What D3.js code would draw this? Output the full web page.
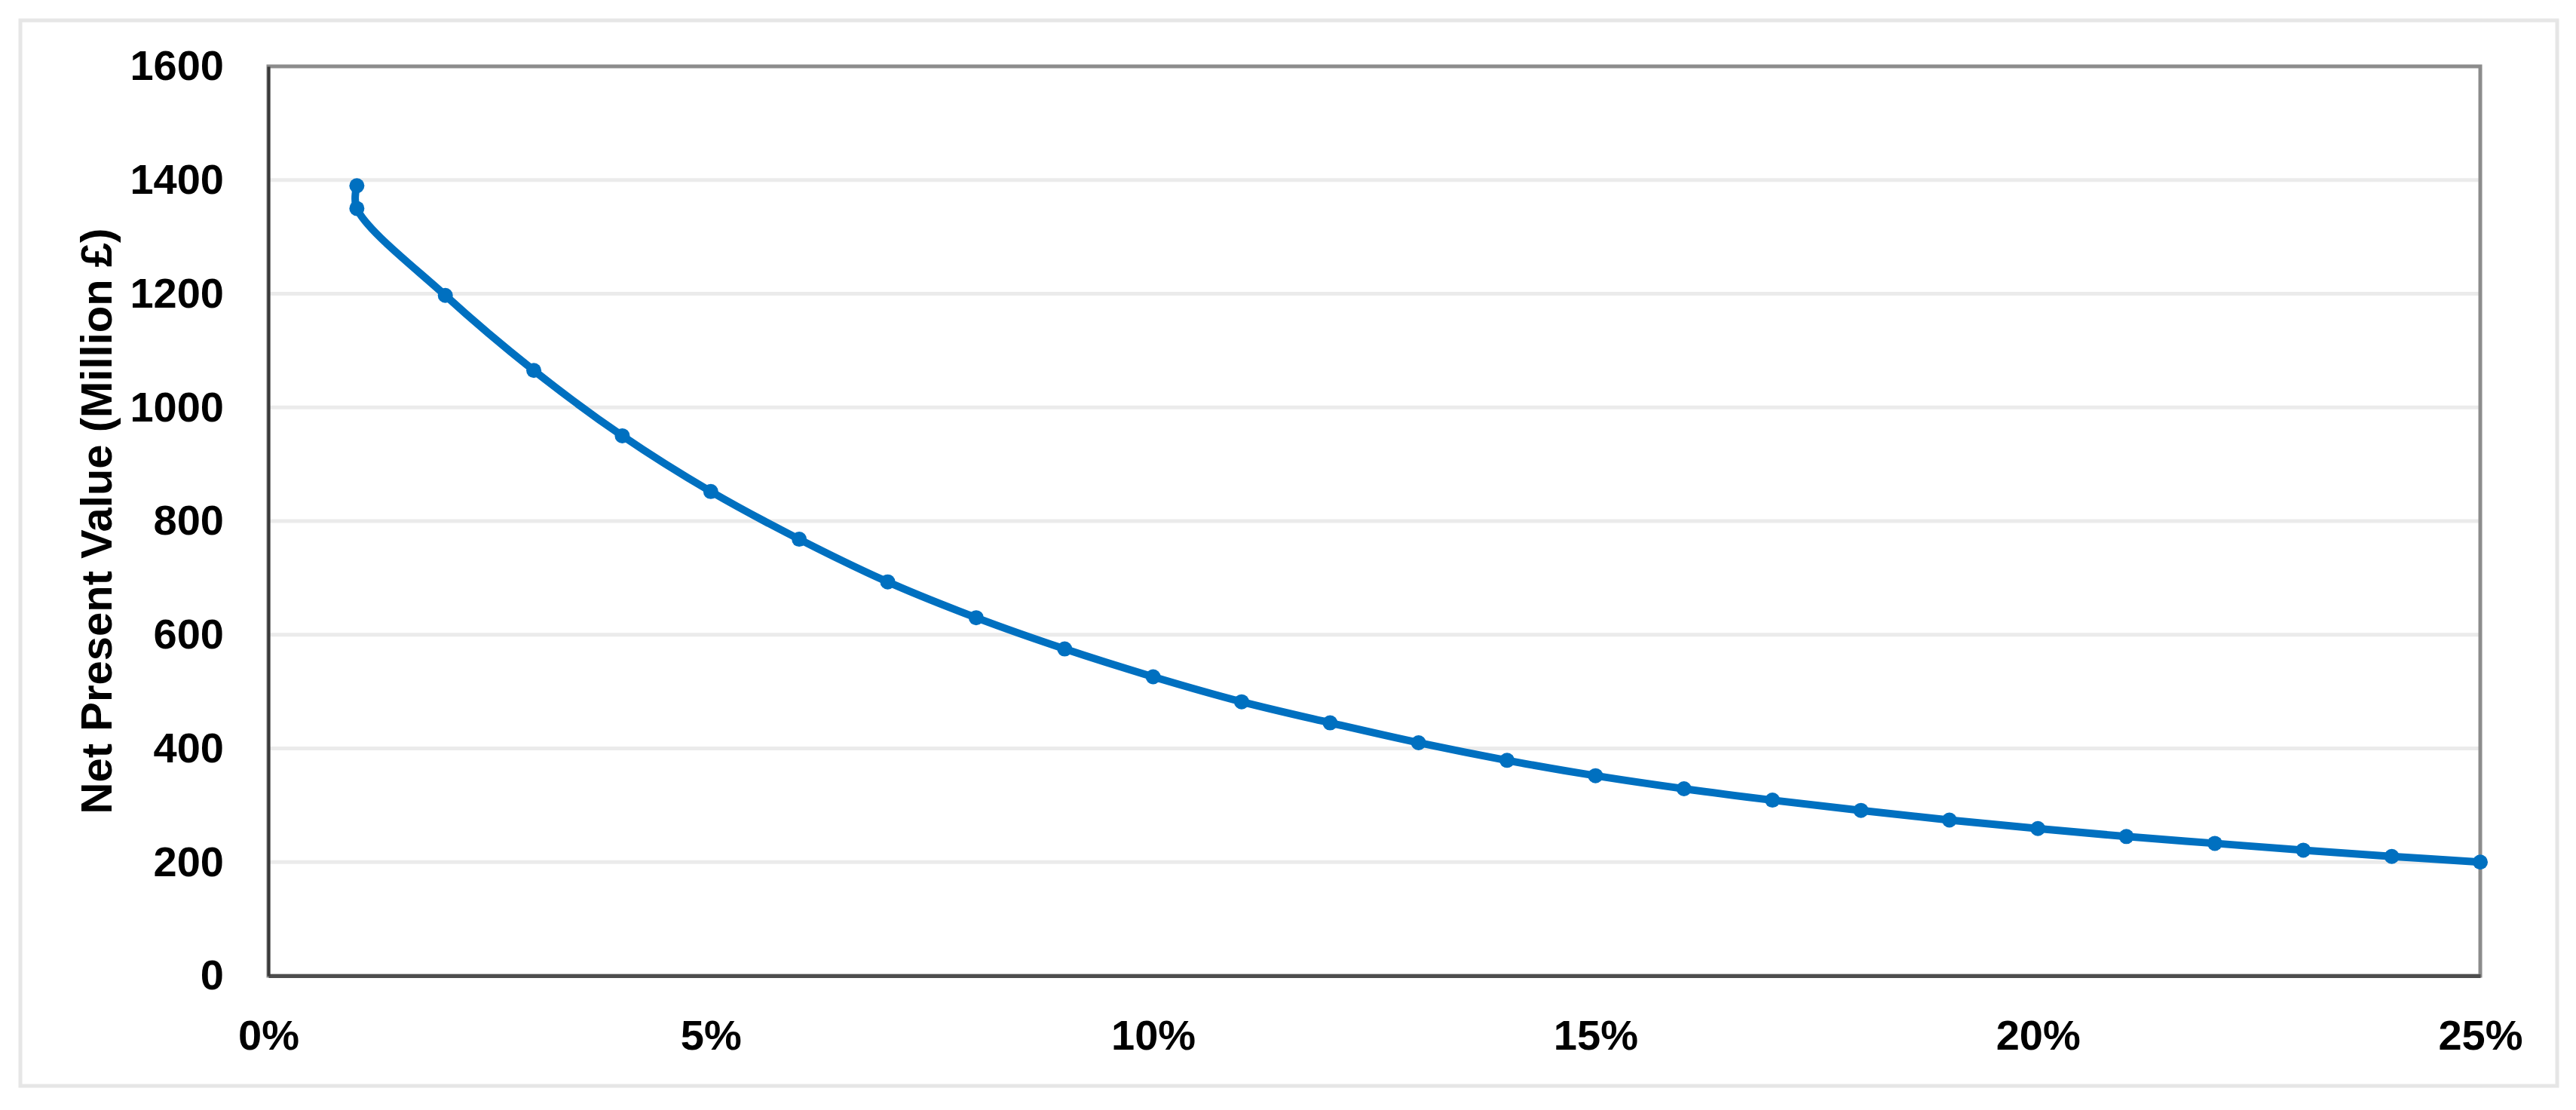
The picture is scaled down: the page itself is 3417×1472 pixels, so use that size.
<!DOCTYPE html>
<html>
<head>
<meta charset="utf-8">
<script src="https://cdn.jsdelivr.net/npm/d3@7"></script>
<style>
    body { margin: 0; background: #ffffff; }
    text { font-family: "Liberation Sans", Arial, sans-serif; font-weight: bold; fill: #000000; }
</style>
</head>
<body>
<div id="canvas"></div>
<script>
"use strict"

/* Data: discount rate (%) and NPV (million pounds) */
let discountRates = [1, 1, 2, 3, 4, 5, 6, 7, 8, 9, 10, 11, 12, 13, 14, 15, 16, 17, 18, 19, 20, 21, 22, 23, 24, 25];
let npvValues = [1390, 1350, 1197, 1065, 950, 852, 768, 693, 630, 575, 526, 482, 445, 410, 379, 352, 329, 309, 291, 274, 259, 245, 233, 221, 210, 200];
let xTicks = [0, 5, 10, 15, 20, 25];
let yTicks = [0, 200, 400, 600, 800, 1000, 1200, 1400, 1600];
let yTitle = "Net Present Value (Million £)";

/* Configuration variables: drawing */
let svgWidth = 3417;
let svgHeight = 1472;
let plotLeft = 356;
let plotRight = 3290;
let plotTop = 88;
let plotBottom = 1294;

let svg = d3.select("#canvas")
    .append("svg")
    .attr("width", svgWidth)
    .attr("height", svgHeight);

/* Outer chart frame */
svg.append("rect")
    .attr("x", 27)
    .attr("y", 27)
    .attr("width", 3365)
    .attr("height", 1413)
    .attr("fill", "#ffffff")
    .attr("stroke", "#e6e6e6")
    .attr("stroke-width", 5);

let xScale = d3.scaleLinear()
    .domain([0, 25])
    .range([plotLeft, plotRight]);

let yScale = d3.scaleLinear()
    .domain([0, 1600])
    .range([plotBottom, plotTop]);

/* Gridlines */
svg.append("g")
    .selectAll("line")
    .data(yTicks.filter(d => d > 0 && d < 1600))
    .join("line")
    .attr("x1", plotLeft)
    .attr("x2", plotRight)
    .attr("y1", d => yScale(d))
    .attr("y2", d => yScale(d))
    .attr("stroke", "#ebebeb")
    .attr("stroke-width", 5);

/* Plot border: top and right are lighter grey */
svg.append("rect")
    .attr("x", plotLeft)
    .attr("y", plotTop)
    .attr("width", plotRight - plotLeft)
    .attr("height", plotBottom - plotTop)
    .attr("fill", "none")
    .attr("stroke", "#8c8c8c")
    .attr("stroke-width", 5);

/* Axes */
let xAxis = d3.axisBottom(xScale)
    .tickValues(xTicks)
    .tickSize(0)
    .tickPadding(58)
    .tickFormat(d => d + "%");

let yAxis = d3.axisLeft(yScale)
    .tickValues(yTicks)
    .tickSize(0)
    .tickPadding(59)
    .tickFormat(d3.format("d"));

let gx = svg.append("g")
    .attr("transform", "translate(0," + plotBottom + ")")
    .call(xAxis);
gx.select(".domain")
    .attr("stroke", "#4d4d4d")
    .attr("stroke-width", 5);
gx.selectAll("text")
    .attr("font-size", 56)
    .attr("dy", "0.71em")
    .attr("font-family", null);

let gy = svg.append("g")
    .attr("transform", "translate(" + plotLeft + ",0)")
    .call(yAxis);
gy.select(".domain")
    .attr("stroke", "#3a3a3a")
    .attr("stroke-width", 4);
gy.selectAll("text")
    .attr("font-size", 56)
    .attr("font-family", null);

/* Axis title */
svg.append("text")
    .attr("transform", "translate(127," + ((plotTop + plotBottom) / 2) + ") rotate(-90)")
    .attr("text-anchor", "middle")
    .attr("dominant-baseline", "central")
    .attr("font-size", 58)
    .text(yTitle);

/* Smoothed NPV line */
let points = discountRates.map((r, i) => [r, npvValues[i]]);

let line = d3.line()
    .x(d => xScale(d[0]))
    .y(d => yScale(d[1]))
    .curve(d3.curveCatmullRom.alpha(0.5));

svg.append("path")
    .datum(points)
    .attr("d", line)
    .attr("fill", "none")
    .attr("stroke", "#0070c0")
    .attr("stroke-width", 10)
    .attr("stroke-linejoin", "round");

svg.append("g")
    .selectAll("circle")
    .data(points)
    .join("circle")
    .attr("cx", d => xScale(d[0]))
    .attr("cy", d => yScale(d[1]))
    .attr("r", 10)
    .attr("fill", "#0070c0");
</script>
</body>
</html>
